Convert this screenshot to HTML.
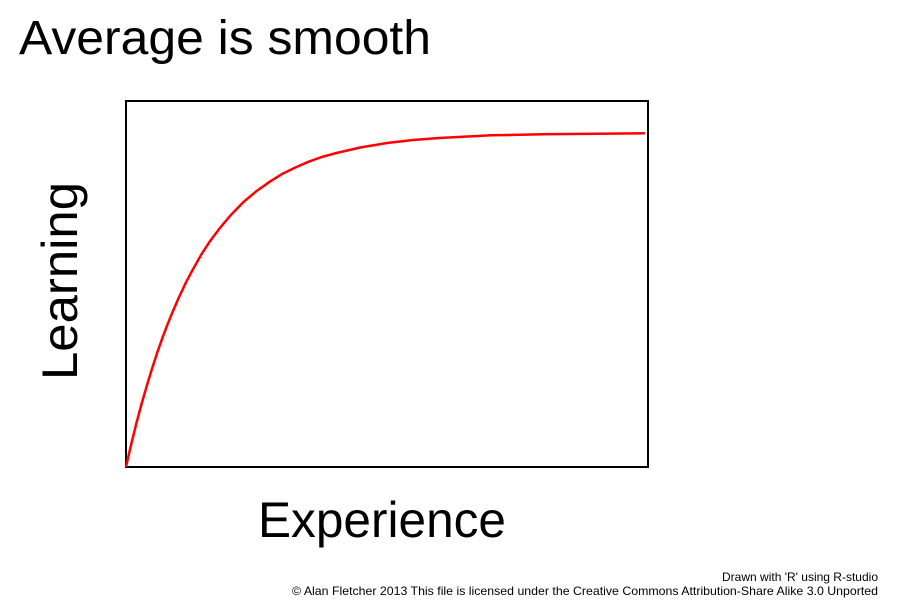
<!DOCTYPE html>
<html><head><meta charset="utf-8"><style>
body{margin:0;background:#fff;}
svg{display:block;font-family:"Liberation Sans",sans-serif;}
</style></head><body>
<svg id="chart" width="900" height="600">
<rect width="900" height="600" fill="#fff"/>
<text x="19" y="54" font-size="48" textLength="412" lengthAdjust="spacingAndGlyphs" fill="#000">Average is smooth</text>
<rect x="126" y="101" width="522" height="366" fill="none" stroke="#000" stroke-width="2"/>
<text x="382" y="537" font-size="50" textLength="248" lengthAdjust="spacingAndGlyphs" text-anchor="middle" fill="#000">Experience</text>
<text transform="translate(77,281) rotate(-90)" font-size="50" textLength="198" lengthAdjust="spacingAndGlyphs" text-anchor="middle" fill="#000">Learning</text>
<text x="878" y="581" font-size="12" text-anchor="end" fill="#000">Drawn with 'R' using R-studio</text>
<text x="878" y="595" font-size="12" text-anchor="end" textLength="586" lengthAdjust="spacingAndGlyphs" fill="#000">© Alan Fletcher 2013 This file is licensed under the Creative Commons Attribution-Share Alike 3.0 Unported</text>
<path id="curve" fill="none" stroke="#ff0000" stroke-width="2.5" stroke-linejoin="round"/>
</svg>
<script>
const experience=[0,0.01,0.02,0.03,0.04,0.05,0.06,0.07,0.08,0.09,0.10,0.115,0.13,0.145,0.16,0.18,0.20,0.225,0.25,0.275,0.30,0.325,0.35,0.375,0.40,0.45,0.50,0.55,0.60,0.70,0.80,0.90,0.994];
const learning=[0,0.068,0.131,0.19,0.244,0.295,0.343,0.387,0.429,0.467,0.503,0.553,0.597,0.638,0.674,0.716,0.753,0.793,0.826,0.854,0.878,0.897,0.914,0.928,0.939,0.957,0.970,0.979,0.985,0.993,0.996,0.998,0.999];
function xs(v){return 126+v*522;}
function ys(v){return 467-v*334;}
let d='';
for(let i=0;i<experience.length;i++){d+=(i?'L':'M')+xs(experience[i]).toFixed(1)+','+ys(learning[i]).toFixed(1);}
document.getElementById('curve').setAttribute('d',d);
</script>
</body></html>
